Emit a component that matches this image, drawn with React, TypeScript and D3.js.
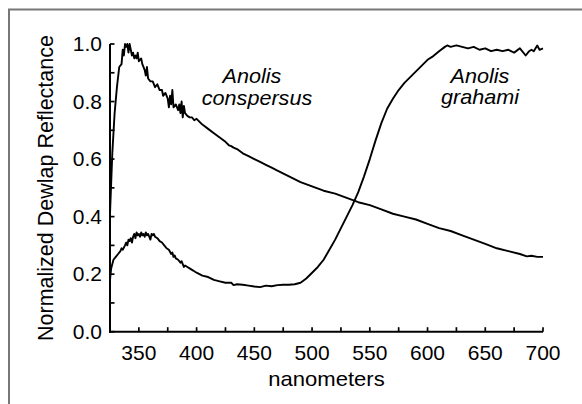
import React from "react";
import * as d3 from "d3";

const conspersusNm = [325,327,329,331,333,335,336,337,338,339,340,341,342,343,344,345,346,347,348,349,350,352,353,355,356,357,358,360,362,364,366,368,370,371,373,375,376,377,378,379,380,382,384,385,386,387,388,389,390,392,394,396,398,400,405,410,415,420,425,428,430,432,435,440,445,450,455,460,465,470,480,490,500,510,520,530,540,550,560,570,580,590,600,610,620,630,640,650,660,670,680,686,690,695,700];
const conspersusVal = [0.41,0.62,0.76,0.85,0.92,0.93,0.98,0.96,1.0,0.99,1.0,0.97,1.0,0.98,0.96,0.97,0.95,0.96,0.95,0.97,0.94,0.95,0.93,0.91,0.89,0.92,0.88,0.87,0.87,0.85,0.86,0.84,0.84,0.82,0.83,0.81,0.78,0.82,0.79,0.84,0.78,0.79,0.77,0.79,0.76,0.8,0.745,0.785,0.76,0.75,0.745,0.745,0.735,0.74,0.72,0.705,0.69,0.675,0.66,0.648,0.645,0.64,0.635,0.62,0.61,0.6,0.59,0.58,0.57,0.56,0.54,0.52,0.505,0.49,0.48,0.465,0.45,0.44,0.425,0.41,0.4,0.39,0.375,0.36,0.35,0.335,0.32,0.305,0.29,0.28,0.27,0.262,0.264,0.26,0.26];

const grahamiNm = [325,326,328,330,332,334,335,336,338,339,340,341,342,343,344,345,346,347,348,349,350,351,352,353,354,355,356,357,358,359,360,361,362,363,364,366,368,370,372,374,376,378,379,380,381,382,384,386,387,388,389,390,392,394,396,398,400,405,410,415,420,425,430,432,435,440,445,450,455,460,465,470,475,480,485,490,495,500,505,510,515,520,525,530,535,540,545,550,555,560,565,570,575,580,585,590,595,600,605,610,615,617,620,625,630,635,640,645,650,655,660,665,670,675,680,685,688,690,692,695,697,700];
const grahamiVal = [0.18,0.22,0.25,0.26,0.27,0.28,0.29,0.285,0.3,0.31,0.3,0.32,0.315,0.325,0.31,0.33,0.34,0.325,0.345,0.335,0.34,0.33,0.345,0.335,0.34,0.33,0.345,0.335,0.34,0.33,0.32,0.34,0.335,0.34,0.33,0.325,0.315,0.31,0.3,0.29,0.285,0.27,0.275,0.26,0.265,0.255,0.25,0.24,0.245,0.235,0.225,0.23,0.225,0.22,0.215,0.21,0.205,0.195,0.19,0.18,0.175,0.17,0.17,0.162,0.165,0.163,0.16,0.157,0.155,0.16,0.158,0.162,0.163,0.163,0.165,0.17,0.185,0.205,0.225,0.25,0.285,0.32,0.36,0.4,0.44,0.485,0.54,0.6,0.665,0.725,0.775,0.81,0.84,0.865,0.885,0.905,0.925,0.945,0.958,0.975,0.99,0.995,0.99,0.995,0.99,0.985,0.99,0.98,0.985,0.975,0.98,0.975,0.98,0.97,0.985,0.96,0.975,0.98,0.975,0.995,0.98,0.985];

const xMajorTicks = [350,400,450,500,550,600,650,700];
const xMinorTicks = [375,425,475,525,575,625,675];
const yMajorTicks = [0,0.2,0.4,0.6,0.8,1.0];
const yMinorTicks = [0.1,0.3,0.5,0.7,0.9];

const W = 582, H = 404;
const FONT = "'Liberation Sans', Arial, sans-serif";

export default function App() {
  const x = d3.scaleLinear().domain([325, 700]).range([110, 543]);
  const y = d3.scaleLinear().domain([0, 1]).range([331.7, 44]);
  const line = d3.line<[number, number]>().x(d => x(d[0])).y(d => y(d[1]));
  const cData = conspersusNm.map((n, i) => [n, conspersusVal[i]] as [number, number]);
  const gData = grahamiNm.map((n, i) => [n, grahamiVal[i]] as [number, number]);
  const sx = 1.05;
  const sl = 1.08;
  return (
    <svg width={W} height={H} style={{ position: "absolute", left: 0, top: 0, background: "#fff" }} fontFamily={FONT}>
      <rect x={0} y={0} width={W} height={H} fill="#fff" />
      <path d={`M9,${H} V9.5 H${W}`} fill="none" stroke="#777" strokeWidth={2} />
      {/* axes */}
      <line x1={x(325)} x2={x(325)} y1={y(1)} y2={y(0) + 1} stroke="#000" strokeWidth={2} />
      <line x1={x(325) - 1} x2={x(700)} y1={y(0)} y2={y(0)} stroke="#000" strokeWidth={2} />
      {yMajorTicks.concat(yMinorTicks).map(t => (
        <line key={"yt" + t} x1={x(325)} x2={x(325) + 4.5} y1={y(t)} y2={y(t)} stroke="#000" strokeWidth={1.7} />
      ))}
      {xMajorTicks.concat(xMinorTicks).map(t => (
        <line key={"xt" + t} x1={x(t)} x2={x(t)} y1={y(0)} y2={y(0) - 4.5} stroke="#000" strokeWidth={1.7} />
      ))}
      {yMajorTicks.map(t => (
        <text key={"yl" + t} transform={`translate(102,${y(t) + 7}) scale(${sx},1)`} textAnchor="end" fontSize={20} fill="#000">
          {t.toFixed(1)}
        </text>
      ))}
      {xMajorTicks.map(t => (
        <text key={"xl" + t} transform={`translate(${x(t)},359.5) scale(${sx},1)`} textAnchor="middle" fontSize={20} fill="#000">
          {t}
        </text>
      ))}
      <text transform={`translate(326.5,386) scale(${sx},1)`} textAnchor="middle" fontSize={21} fill="#000">nanometers</text>
      <text transform={`translate(53,188) rotate(-90)`} textAnchor="middle" fontSize={21.5} fill="#000">Normalized Dewlap Reflectance</text>
      {/* curves */}
      <path d={line(cData) || ""} fill="none" stroke="#000" strokeWidth={1.9} strokeLinejoin="round" />
      <path d={line(gData) || ""} fill="none" stroke="#000" strokeWidth={1.9} strokeLinejoin="round" />
      {/* species labels */}
      <g fontStyle="italic" fontSize={20} fill="#000">
        <text transform={`translate(252,83) scale(${sl},1)`} textAnchor="middle">Anolis</text>
        <text transform={`translate(257,105) scale(${sl},1)`} textAnchor="middle">conspersus</text>
        <text transform={`translate(480,83) scale(${sl},1)`} textAnchor="middle">Anolis</text>
        <text transform={`translate(480,104) scale(${sl},1)`} textAnchor="middle">grahami</text>
      </g>
    </svg>
  );
}
